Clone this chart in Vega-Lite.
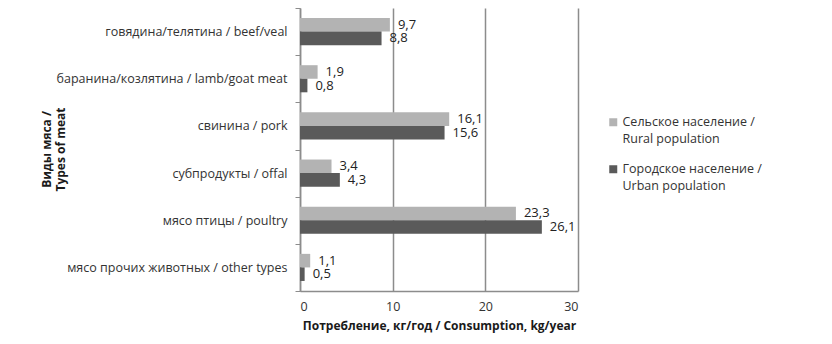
{
  "$schema": "https://vega.github.io/schema/vega-lite/v6.json",
  "width": 278,
  "height": 283,
  "autosize": {"type": "none"},
  "padding": {"left": 300, "top": 8, "right": 254, "bottom": 53},
  "background": "white",
  "config": {
    "view": {"stroke": null},
    "font": "Open Sans",
    "locale": {"number": {"decimal": ",", "thousands": " ", "grouping": [3], "currency": ["", ""]}}
  },
  "data": {
    "values": [
      {"meat": "говядина/телятина / beef/veal", "group": "Сельское население / Rural population", "value": 9.7},
      {"meat": "говядина/телятина / beef/veal", "group": "Городское население / Urban population", "value": 8.8},
      {"meat": "баранина/козлятина / lamb/goat meat", "group": "Сельское население / Rural population", "value": 1.9},
      {"meat": "баранина/козлятина / lamb/goat meat", "group": "Городское население / Urban population", "value": 0.8},
      {"meat": "свинина / pork", "group": "Сельское население / Rural population", "value": 16.1},
      {"meat": "свинина / pork", "group": "Городское население / Urban population", "value": 15.6},
      {"meat": "субпродукты / offal", "group": "Сельское население / Rural population", "value": 3.4},
      {"meat": "субпродукты / offal", "group": "Городское население / Urban population", "value": 4.3},
      {"meat": "мясо птицы  / poultry", "group": "Сельское население / Rural population", "value": 23.3},
      {"meat": "мясо птицы  / poultry", "group": "Городское население / Urban population", "value": 26.1},
      {"meat": "мясо прочих животных / other types", "group": "Сельское население / Rural population", "value": 1.1},
      {"meat": "мясо прочих животных / other types", "group": "Городское население / Urban population", "value": 0.5}
    ]
  },
  "encoding": {
    "y": {
      "field": "meat",
      "type": "nominal",
      "sort": null,
      "scale": {"paddingInner": 0, "paddingOuter": 0},
      "axis": {
        "title": ["Виды мяса /", "Types of meat"],
        "titleFont": "Open Sans",
        "titleFontWeight": "bold",
        "titleFontSize": 12,
        "titleColor": "#1a1a1a",
        "titleAngle": -90,
        "titleX": -254,
        "titleY": 141,
        "titleAlign": "center",
        "titleBaseline": "middle",
        "tickBand": "extent",
        "tickSize": 5,
        "tickColor": "#8c8c8c",
        "domainColor": "#8c8c8c",
        "domainWidth": 1.5,
        "labelPadding": 8,
        "labelFontSize": 12.5,
        "labelColor": "#333333",
        "labelLimit": 400,
        "grid": false
      }
    },
    "yOffset": {
      "field": "group",
      "type": "nominal",
      "sort": ["Сельское население / Rural population", "Городское население / Urban population"],
      "scale": {"paddingInner": 0, "paddingOuter": 0.74}
    },
    "x": {
      "field": "value",
      "type": "quantitative",
      "scale": {"domain": [0, 30], "nice": false},
      "axis": {
        "values": [0, 10, 20, 30],
        "title": "Потребление, кг/год / Consumption, kg/year",
        "titleFontWeight": "bold",
        "titleFontSize": 12,
        "titleColor": "#1a1a1a",
        "titlePadding": 8,
        "ticks": false,
        "labelPadding": 9,
        "labelFontSize": 12.5,
        "labelColor": "#333333",
        "grid": true,
        "gridColor": "#8c8c8c",
        "gridWidth": 1.5,
        "domainColor": "#8c8c8c",
        "domainWidth": 1.5
      }
    }
  },
  "layer": [
    {
      "mark": {"type": "bar"},
      "encoding": {
        "color": {
          "field": "group",
          "type": "nominal",
          "sort": ["Сельское население / Rural population", "Городское население / Urban population"],
          "scale": {"range": ["#b3b3b3", "#5a5a5a"]},
          "legend": {
            "title": null,
            "orient": "none",
            "legendX": 307,
            "legendY": 108,
            "symbolType": "square",
            "symbolSize": 64,
            "symbolStrokeWidth": 0,
            "labelFontSize": 12.5,
            "labelColor": "#333333",
            "labelLimit": 300,
            "labelBaseline": "alphabetic",
            "labelOffset": 3,
            "rowPadding": 17,
            "labelExpr": "[split(datum.label, ' / ')[0] + ' /', split(datum.label, ' / ')[1]]",
            "encode": {"labels": {"update": {"dy": {"value": 4}, "lineHeight": {"value": 16.5}}}}
          }
        }
      }
    },
    {
      "mark": {"type": "text", "align": "left", "baseline": "middle", "dx": 8, "fontSize": 13, "color": "#222222"},
      "encoding": {
        "text": {"field": "value", "type": "quantitative", "format": ".1f"}
      }
    }
  ]
}
